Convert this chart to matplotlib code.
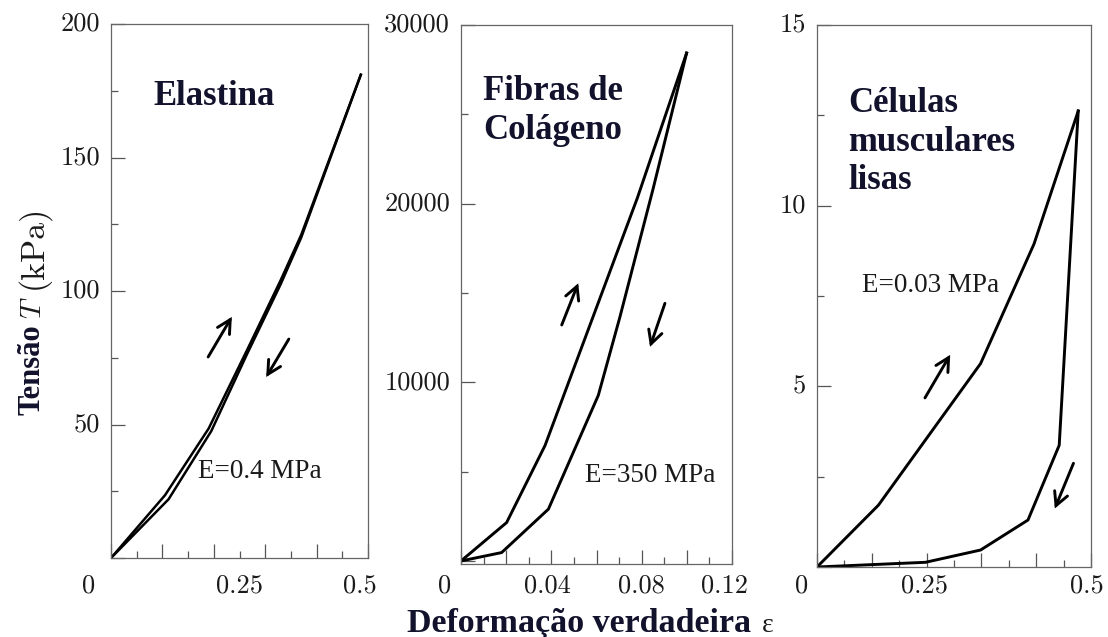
import matplotlib
matplotlib.use("Agg")
import matplotlib.pyplot as plt
from matplotlib.ticker import MultipleLocator
from matplotlib.transforms import ScaledTranslation, blended_transform_factory

# ---- data: true strain vs. tension (loading / unloading branches) ----
elastin_load_strain = [0, 0.105, 0.19, 0.265, 0.33, 0.37, 0.486]
elastin_load_stress = [0, 23.5, 48.5, 78, 104, 121, 181]
elastin_unload_strain = [0.486, 0.37, 0.33, 0.265, 0.195, 0.112, 0]
elastin_unload_stress = [181, 120, 102.5, 76.5, 47.5, 22, 0]

collagen_load_strain = [0, 0.0202, 0.0372, 0.0781, 0.0999]
collagen_load_stress = [0, 2150, 6460, 20320, 28430]
collagen_unload_strain = [0.0999, 0.085, 0.0704, 0.0608, 0.0387, 0.018, 0]
collagen_unload_stress = [28430, 20800, 13670, 9270, 2900, 470, 0]

smc_load_strain = [0, 0.112, 0.2985, 0.396, 0.4767]
smc_load_stress = [0, 1.71, 5.63, 8.94, 12.62]
smc_unload_strain = [0.4767, 0.442, 0.385, 0.2985, 0.198, 0]
smc_unload_stress = [12.62, 3.37, 1.30, 0.47, 0.13, 0]

titles = [["Elastina"], ["Fibras de", "Colágeno"], ["Células", "musculares", "lisas"]]
moduli = ["E=0.4 MPa", "E=350 MPa", "E=0.03 MPa"]

elastin_yticks = [50, 100, 150, 200]
collagen_yticks = [10000, 20000, 30000]
smc_yticks = [5, 10, 15]
elastin_xticks = [0, 0.25, 0.5]
collagen_xticks = [0, 0.04, 0.08, 0.12]
smc_xticks = [0, 0.25, 0.5]
elastin_xlabels = ["0", "0.25", "0.5"]
collagen_xlabels = ["0", "0.04", "0.08", "0.12"]
smc_xlabels = ["0", "0.25", "0.5"]

# direction arrows (tail, head) in data units
elastin_arrows = [((0.189, 75.3), (0.235, 90.3)), ((0.346, 82.0), (0.302, 67.8))]
collagen_arrows = [((0.0446, 13210), (0.0519, 15540)), ((0.0903, 14420), (0.0837, 11990))]
smc_arrows = [((0.197, 4.68), (0.243, 5.87)), ((0.468, 2.87), (0.434, 1.62))]

W, H = 1108, 637
fig = plt.figure(figsize=(W / 100, H / 100), dpi=100)
fig.patch.set_facecolor("white")

INK = "#12122c"
TICKFONT = "cmr10"
SERIF = "Liberation Serif"
LINE_STEP = 38.5  # px between title lines


def px(dx, dy=0.0):
    return ScaledTranslation(dx / 100, dy / 100, fig.dpi_scale_trans)


def add_axes_px(left, top, right, bottom):
    return fig.add_axes([left / W, 1 - bottom / H, (right - left) / W, (bottom - top) / H])


panels = [
    dict(box=(111, 24, 368, 558), xlim=(0, 0.5), ylim=(0, 200),
         xmaj=0.1, xmin=0.05, ymaj=50, ymin=25,
         load=(elastin_load_strain, elastin_load_stress),
         unload=(elastin_unload_strain, elastin_unload_stress),
         yticks=elastin_yticks, xticks=elastin_xticks, xlabels=elastin_xlabels,
         xoff=[-22, 0, -8], arrows=elastin_arrows,
         title_xy=(0.0817, 169.7), mod_xy=(0.169, 30.0), lw=1.8),
    dict(box=(461, 25, 732, 564), xlim=(0, 0.12), ylim=(-170, 30000),
         xmaj=0.02, xmin=0.01, ymaj=10000, ymin=5000,
         load=(collagen_load_strain, collagen_load_stress),
         unload=(collagen_unload_strain, collagen_unload_stress),
         yticks=collagen_yticks, xticks=collagen_xticks, xlabels=collagen_xlabels,
         xoff=[-16, -4, 0, -7], arrows=collagen_arrows,
         title_xy=(0.0097, 25800), mod_xy=(0.0549, 4420), lw=2.1),
    dict(box=(817, 25, 1091, 567), xlim=(0, 0.5), ylim=(0, 15),
         xmaj=0.1, xmin=0.05, ymaj=5, ymin=2.5,
         load=(smc_load_strain, smc_load_stress),
         unload=(smc_unload_strain, smc_unload_stress),
         yticks=smc_yticks, xticks=smc_xticks, xlabels=smc_xlabels,
         xoff=[-15, -29, -4], arrows=smc_arrows,
         title_xy=(0.0566, 12.59), mod_xy=(0.0821, 7.61), lw=2.1),
]

for p, title, mod in zip(panels, titles, moduli):
    ax = add_axes_px(*p["box"])
    ax.set_xlim(*p["xlim"])
    ax.set_ylim(*p["ylim"])
    ax.plot(*p["load"], color="black", lw=p["lw"], solid_joinstyle="miter")
    ax.plot(*p["unload"], color="black", lw=p["lw"], solid_joinstyle="miter")

    ax.xaxis.set_major_locator(MultipleLocator(p["xmaj"]))
    ax.xaxis.set_minor_locator(MultipleLocator(p["xmin"]))
    ax.yaxis.set_major_locator(MultipleLocator(p["ymaj"]))
    ax.yaxis.set_minor_locator(MultipleLocator(p["ymin"]))
    ax.tick_params(which="both", direction="in", top=False, right=False,
                   labelbottom=False, labelleft=False, color="#555555", width=0.9)
    ax.tick_params(which="major", length=10)
    ax.tick_params(which="minor", length=5)
    for sp in ax.spines.values():
        sp.set_color("#666666")
        sp.set_linewidth(0.9)

    # y tick labels
    ytr = ax.transData + px(-11)
    for v in p["yticks"]:
        ax.text(p["xlim"][0], v, f"{v}", transform=ytr,
                ha="right", va="center", fontsize=19, family=TICKFONT, color="#1a1a1a",
                clip_on=False)

    # x tick labels
    for v, lab, off in zip(p["xticks"], p["xlabels"], p["xoff"]):
        tr = blended_transform_factory(ax.transData, fig.transFigure) + px(off)
        ax.text(v, 1 - 586 / H, lab, transform=tr, ha="center", va="center",
                fontsize=19, family=TICKFONT, color="#1a1a1a", clip_on=False)

    # loading / unloading arrows
    for tail, head in p["arrows"]:
        ax.annotate("", xy=head, xytext=tail,
                    arrowprops=dict(arrowstyle="->,head_length=0.95,head_width=0.5",
                                    lw=2.1, color="black", shrinkA=0, shrinkB=0,
                                    joinstyle="miter"))

    # panel title, one line at a time
    for i, line in enumerate(title):
        ax.text(*p["title_xy"], line, transform=ax.transData + px(0, -LINE_STEP * i),
                family=SERIF, fontweight="bold", fontsize=25,
                color=INK, ha="left", va="baseline")
    ax.text(*p["mod_xy"], mod, family=SERIF, fontsize=19.5, color="#1a1a1a",
            ha="left", va="baseline")

# y axis label: bold word, italic symbol, unit
fig.text(32 / W, 1 - 415 / H, "Tensão", rotation=90, ha="center", va="bottom",
         family=SERIF, fontweight="bold", fontsize=22, color=INK)
fig.text(33 / W, 1 - 318 / H, "T", rotation=90, ha="center", va="bottom",
         family="cmmi10", fontsize=21, color="#1a1a1a")
fig.text(33 / W, 1 - 289 / H, "(kPa)", rotation=90, ha="center", va="bottom",
         family=TICKFONT, fontsize=24.5, color="#1a1a1a")

# x axis label
fig.text(407 / W, 1 - 632 / H, "Deformação verdadeira", ha="left", va="baseline",
         family=SERIF, fontweight="bold", fontsize=24.5, color=INK)
fig.text(762 / W, 1 - 632 / H, "ε", ha="left", va="baseline",
         family=SERIF, fontsize=20, color="#1a1a1a")

fig.savefig("out.png", dpi=100, facecolor="white")
